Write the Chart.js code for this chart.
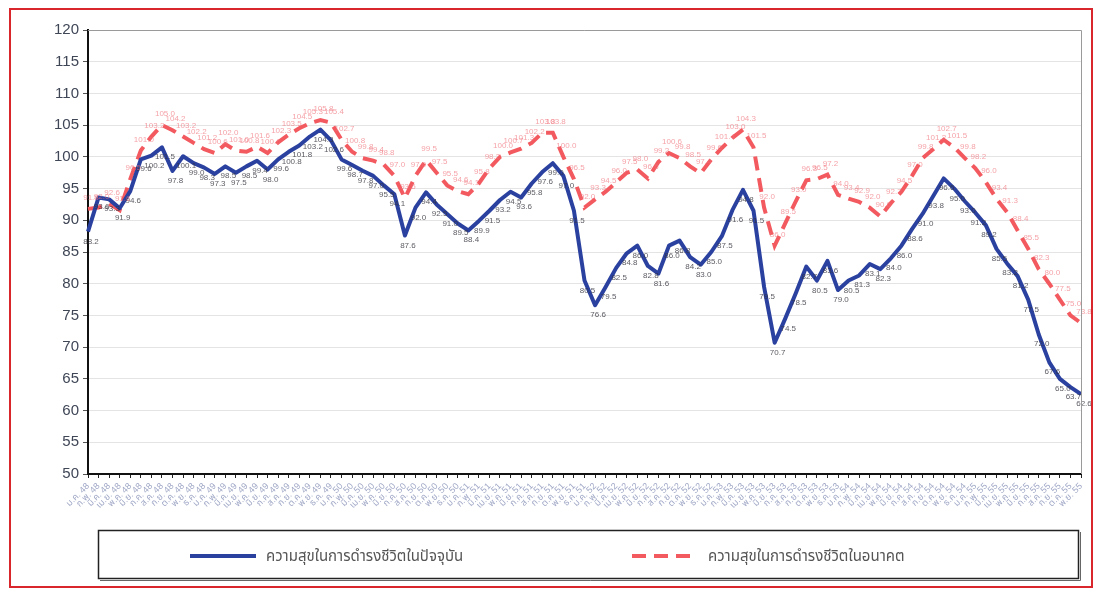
<!DOCTYPE html>
<html>
<head>
<meta charset="utf-8">
<script src="https://cdn.jsdelivr.net/npm/chart.js@4.4.1/dist/chart.umd.min.js"></script>
<style>
  html, body { margin: 0; padding: 0; background: #fff; }
  #wrap { position: relative; width: 1095px; height: 589px; }
  #frame { position: absolute; left: 9px; top: 8px; width: 1080px; height: 576px; border: 2px solid #d9262c; pointer-events: none; }
</style>
</head>
<body>
<div id="wrap">
  <canvas id="happy-chart" width="1095" height="589"></canvas>
  <div id="frame"></div>
</div>
<script>
// ข้อมูลดัชนี
const monthNames = ['ม.ค.', 'ก.พ.', 'มี.ค.', 'เม.ย.', 'พ.ค.', 'มิ.ย.', 'ก.ค.', 'ส.ค.', 'ก.ย.', 'ต.ค.', 'พ.ย.', 'ธ.ค.'];
const startYear = 48;

const currentHappiness = [
  88.2, 93.6, 93.3, 91.9, 94.6, 99.6, 100.2, 101.5, 97.8, 100.1,
  99.0, 98.3, 97.3, 98.5, 97.5, 98.5, 99.4, 98.0, 99.6, 100.8,
  101.8, 103.2, 104.3, 102.6, 99.6, 98.7, 97.8, 97.0, 95.5, 94.1,
  87.6, 92.0, 94.4, 92.5, 91.0, 89.5, 88.4, 89.9, 91.5, 93.2,
  94.5, 93.6, 95.8, 97.6, 99.0, 97.0, 91.5, 80.5, 76.6, 79.5,
  82.5, 84.8, 86.0, 82.8, 81.6, 86.0, 86.8, 84.2, 83.0, 85.0,
  87.5, 91.6, 94.8, 91.5, 79.5, 70.7, 74.5, 78.5, 82.7, 80.5,
  83.6, 79.0, 80.5, 81.3, 83.1, 82.3, 84.0, 86.0, 88.6, 91.0,
  93.8, 96.6, 95.0, 93.0, 91.2, 89.2, 85.5, 83.2, 81.2, 77.5,
  72.0, 67.6, 65.0, 63.7, 62.6
];

const futureHappiness = [
  91.8, 92.0, 92.6, 91.6, 96.5, 101.0, 103.2, 105.0, 104.2, 103.2,
  102.2, 101.2, 100.6, 102.0, 101.0, 100.8, 101.6, 100.6, 102.3, 103.5,
  104.5, 105.3, 105.8, 105.4, 102.7, 100.8, 99.8, 99.4, 98.8, 97.0,
  93.5, 97.0, 99.5, 97.5, 95.5, 94.6, 94.1, 95.8, 98.2, 100.0,
  100.7, 101.3, 102.2, 103.8, 103.8, 100.0, 96.5, 92.0, 93.3, 94.5,
  96.0, 97.5, 98.0, 96.6, 99.2, 100.6, 99.8, 98.5, 97.4, 99.6,
  101.4, 103.0, 104.3, 101.5, 92.0, 86.0, 89.5, 93.0, 96.3, 96.5,
  97.2, 94.0, 93.4, 92.9, 92.0, 90.6, 92.7, 94.5, 97.0, 99.8,
  101.2, 102.7, 101.5, 99.8, 98.2, 96.0, 93.4, 91.3, 88.4, 85.5,
  82.3, 80.0, 77.5, 75.0, 73.8
];

const seriesNames = ['ความสุขในการดำรงชีวิตในปัจจุบัน', 'ความสุขในการดำรงชีวิตในอนาคต'];

const labels = currentHappiness.map((_, i) =>
  monthNames[i % 12] + ' ' + (startYear + Math.floor(i / 12)));

const FONT = "'Liberation Sans', Arial, 'Noto Sans Thai', 'Noto Sans', sans-serif";

// ค่าบนจุด (แบบ datalabels)
const pointValues = {
  id: 'pointValues',
  afterDatasetsDraw(chart) {
    const ctx = chart.ctx;
    ctx.save();
    ctx.font = '8px ' + FONT;
    ctx.textAlign = 'center';
    chart.data.datasets.forEach((ds, di) => {
      const meta = chart.getDatasetMeta(di);
      ctx.fillStyle = di === 0 ? 'rgba(50,50,60,0.8)' : 'rgba(240,110,120,0.65)';
      meta.data.forEach((pt, i) => {
        const dy = di === 0 ? 12 : -9;
        ctx.fillText(ds.data[i].toFixed(1), pt.x + 3, pt.y + dy);
      });
    });
    ctx.restore();
  }
};

// กรอบพื้นที่กราฟ + คำอธิบาย
const frameAndLegend = {
  id: 'frameAndLegend',
  afterDraw(chart) {
    const ctx = chart.ctx;
    const a = chart.chartArea;
    ctx.save();
    ctx.strokeStyle = '#9a9a9a';
    ctx.lineWidth = 1;
    ctx.beginPath();
    ctx.moveTo(a.left, a.top + 0.5);
    ctx.lineTo(a.right + 0.5, a.top + 0.5);
    ctx.lineTo(a.right + 0.5, a.bottom);
    ctx.stroke();

    // legend box
    ctx.strokeStyle = '#222';
    ctx.lineWidth = 1.5;
    ctx.strokeRect(98.5, 530.5, 980, 48);
    ctx.strokeStyle = '#666';
    ctx.lineWidth = 1;
    ctx.beginPath();
    ctx.moveTo(100, 580.5); ctx.lineTo(1080.5, 580.5); ctx.lineTo(1080.5, 532);
    ctx.stroke();

    const xs = [190, 632];
    chart.data.datasets.forEach((ds, i) => {
      ctx.strokeStyle = ds.borderColor;
      ctx.lineWidth = ds.borderWidth;
      ctx.setLineDash(ds.borderDash || []);
      ctx.beginPath();
      ctx.moveTo(xs[i], 556);
      ctx.lineTo(xs[i] + 66, 556);
      ctx.stroke();
      ctx.setLineDash([]);
      ctx.fillStyle = '#555';
      ctx.font = '15px ' + FONT;
      ctx.textBaseline = 'middle';
      ctx.fillText(ds.label, xs[i] + 76, 557);
    });
    ctx.restore();
  }
};

new Chart(document.getElementById('happy-chart').getContext('2d'), {
  type: 'line',
  data: {
    labels,
    datasets: [
      { label: seriesNames[0], data: currentHappiness, borderColor: '#2b41a0', backgroundColor: '#2b41a0',
        borderWidth: 4, pointRadius: 0, tension: 0, borderJoinStyle: 'round' },
      { label: seriesNames[1], data: futureHappiness, borderColor: '#f25a60', backgroundColor: '#f25a60',
        borderWidth: 4, borderDash: [14, 8], pointRadius: 0, tension: 0 }
    ]
  },
  options: {
    responsive: false,
    animation: false,
    layout: { padding: { left: 28, right: 14, top: 30, bottom: 65 } },
    plugins: { legend: { display: false }, tooltip: { enabled: false } },
    scales: {
      x: {
        offset: false,
        afterFit: s => { s.height = 50; },
        border: { color: '#111', width: 2 },
        grid: { drawOnChartArea: false, tickLength: 4, color: '#222' },
        ticks: { autoSkip: false, minRotation: 45, maxRotation: 45, padding: 3,
                 color: '#a0a8c6', font: { size: 9, family: FONT } }
      },
      y: {
        min: 50, max: 120,
        afterFit: s => { s.width = 60; },
        border: { color: '#111', width: 2 },
        grid: { color: '#e4e4e4', tickColor: '#555', tickLength: 5 },
        ticks: { stepSize: 5, padding: 4, color: '#3f4656', font: { size: 15, family: FONT } }
      }
    }
  },
  plugins: [pointValues, frameAndLegend]
});
</script>
</body>
</html>
